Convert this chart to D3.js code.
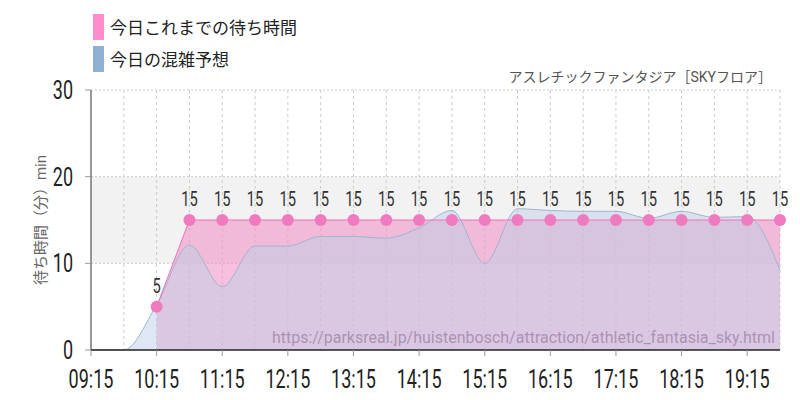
<!DOCTYPE html><html><head><meta charset="utf-8"><script src="https://d3js.org/d3.v7.min.js"></script>
<style>body{margin:0;background:#fff}text{font-family:"Roboto","Noto Sans CJK JP",sans-serif}</style></head><body><svg id="c" width="800" height="400"></svg>
<script>
const times=["9:15","9:45","10:15","10:45","11:15","11:45","12:15","12:45","13:15","13:45","14:15","14:45","15:15","15:45","16:15","16:45","17:15","17:45","18:15","18:45","19:15","19:45"];
const forecast=[0,0,5.2,12.1,7.3,12,12,13.1,13.1,12.9,14.1,16.1,10,16.3,16.1,16,16,15.2,16,15.3,15.4,9.2];
const actual=[null,null,5,15,15,15,15,15,15,15,15,15,15,15,15,15,15,15,15,15,15,15];
const tickLabels=["09:15","10:15","11:15","12:15","13:15","14:15","15:15","16:15","17:15","18:15","19:15"];
const yTicks=[0,10,20,30];
const svg=d3.select("#c");
const x=d3.scaleLinear().domain([0,21]).range([91,780]);
const y=d3.scaleLinear().domain([0,30]).range([350,90]);
const sx=(xx,s)=>`translate(${xx},0) scale(${s},1) translate(${-xx},0)`;
svg.append("rect").attr("x",91).attr("width",689).attr("y",y(20)).attr("height",y(10)-y(20)).attr("fill","#f2f2f2");
times.forEach((t,i)=>{if(i>0)svg.append("line").attr("x1",x(i)).attr("x2",x(i)).attr("y1",90).attr("y2",350).attr("stroke","#ccc").attr("stroke-dasharray","3,3");});
[10,20,30].forEach(v=>svg.append("line").attr("x1",91).attr("x2",780).attr("y1",y(v)).attr("y2",y(v)).attr("stroke","#ccc").attr("stroke-dasharray","2,2"));
const ad=actual.map((v,i)=>[i,v]).filter(d=>d[1]!=null);
svg.append("path").attr("d",d3.area().x(d=>x(d[0])).y0(y(0)).y1(d=>y(d[1]))(ad)).attr("fill","rgba(240,140,195,0.55)");
const fd=forecast.map((v,i)=>[i,v]);
const area=d3.area().x(d=>x(d[0])).y0(y(0)).y1(d=>y(d[1])).curve(d3.curveMonotoneX);
const line=d3.line().x(d=>x(d[0])).y(d=>y(d[1])).curve(d3.curveMonotoneX);
svg.append("path").attr("d",area(fd)).attr("fill","rgba(190,208,232,0.5)");
svg.append("path").attr("d",line(fd)).attr("fill","none").attr("stroke","#9fb6d0").attr("stroke-width",1);
svg.append("path").attr("d",d3.line().x(d=>x(d[0])).y(d=>y(d[1]))(ad)).attr("fill","none").attr("stroke","#f070b8").attr("stroke-width",1);
ad.forEach(d=>{svg.append("circle").attr("cx",x(d[0])).attr("cy",y(d[1])).attr("r",6).attr("fill","#f07ac0");
svg.append("text").attr("x",x(d[0])).attr("y",y(d[1])-14).attr("text-anchor","middle").attr("font-size",21).attr("fill","#333").attr("transform",sx(x(d[0]),0.7)).text(d[1]);});
svg.append("line").attr("x1",91).attr("x2",91).attr("y1",90).attr("y2",350).attr("stroke","#333");
svg.append("line").attr("x1",91).attr("x2",780).attr("y1",350).attr("y2",350).attr("stroke","#222").attr("stroke-width",1.5);
yTicks.forEach(v=>{svg.append("line").attr("x1",85).attr("x2",91).attr("y1",y(v)).attr("y2",y(v)).attr("stroke","#999");
svg.append("text").attr("x",73).attr("y",y(v)+9).attr("text-anchor","end").attr("font-size",25).attr("fill","#222").attr("transform",sx(73,0.72)).text(v);});
tickLabels.forEach((t,k)=>{const xx=x(k*2);svg.append("line").attr("x1",xx).attr("x2",xx).attr("y1",350).attr("y2",356).attr("stroke","#999");
svg.append("text").attr("x",xx).attr("y",388).attr("text-anchor","middle").attr("font-size",25).attr("fill","#222").attr("transform",sx(xx,0.72)).text(t);});
svg.append("text").attr("transform","translate(46,220) rotate(-90)").attr("text-anchor","middle").attr("font-size",15).attr("fill","#666").text("待ち時間（分）min");
svg.append("text").attr("x",772).attr("y",82).attr("text-anchor","end").attr("font-size",14).attr("fill","#555").text("アスレチックファンタジア［SKYフロア］");
svg.append("text").attr("x",775).attr("y",343).attr("text-anchor","end").attr("font-size",16).attr("fill","rgba(150,120,160,0.7)").text("https://parksreal.jp/huistenbosch/attraction/athletic_fantasia_sky.html");
[["今日これまでの待ち時間","#ff8ccc",28],["今日の混雑予想","#8fb0d0",60]].forEach(([t,c,yy])=>{
svg.append("rect").attr("x",93).attr("y",yy-14).attr("width",11).attr("height",26).attr("fill",c);
svg.append("text").attr("x",110).attr("y",yy+6).attr("font-size",17).attr("fill","#222").text(t);});
</script></body></html>
